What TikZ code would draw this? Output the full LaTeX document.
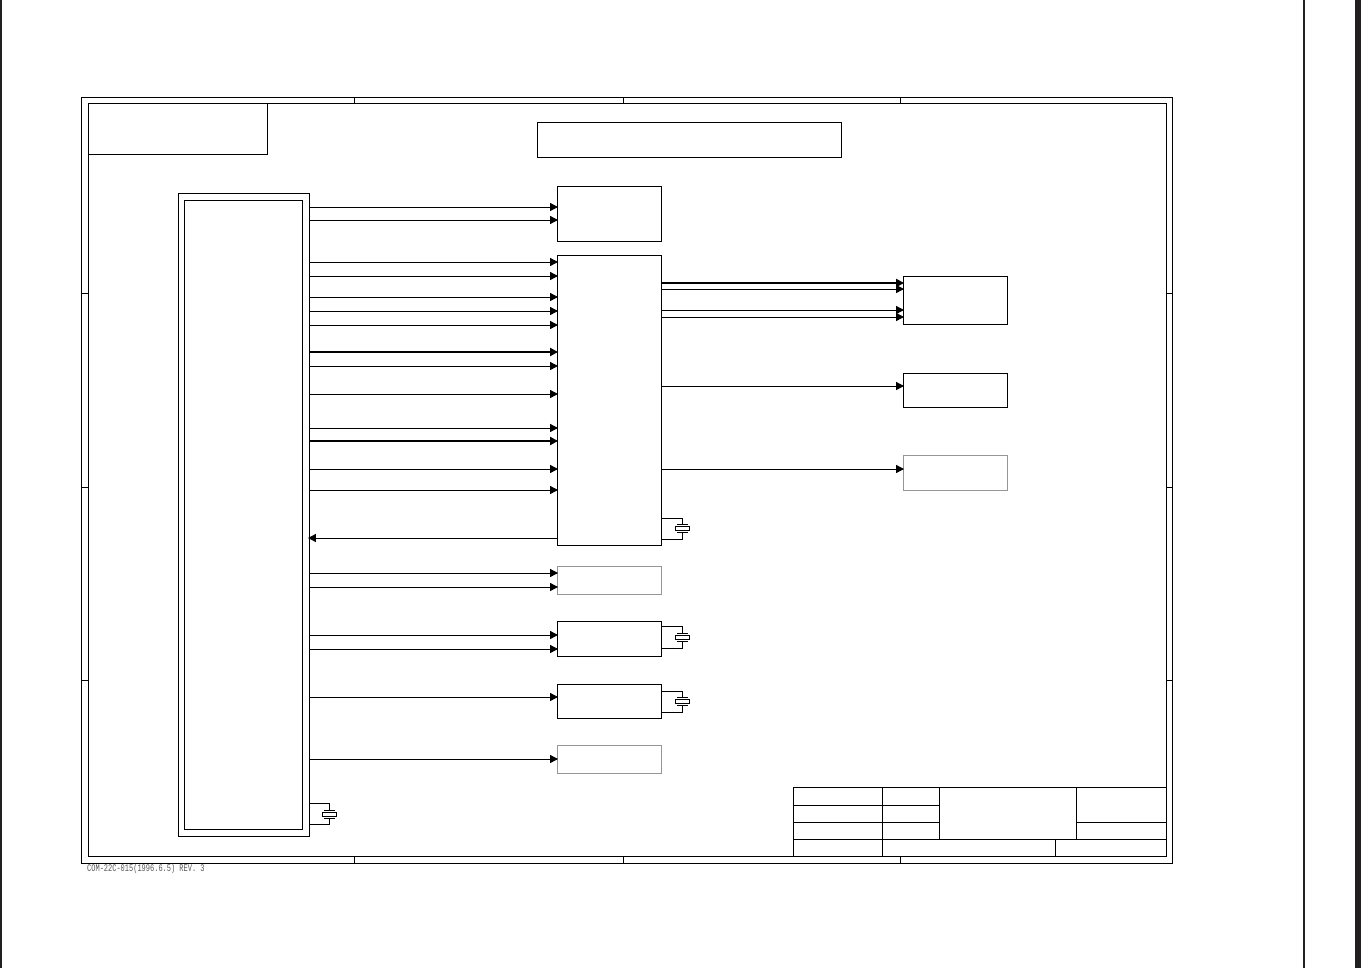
\documentclass[tikz,border=0pt]{standalone}
\usepackage{fontspec}
\setmonofont{Liberation Mono}
\usetikzlibrary{arrows.meta, fit}
\definecolor{FrameGrey}{RGB}{35, 31, 32}
\definecolor{FaintGrey}{RGB}{150, 150, 150}

\begin{document}
\begin{tikzpicture}[
  x=0.75pt, y=-0.75pt,
  blockbox/.style={rectangle, draw=black, line width=0.75pt, inner sep=0pt, outer sep=0pt},
  faintbox/.style={rectangle, draw=FaintGrey, line width=0.75pt, inner sep=0pt, outer sep=0pt},
  arr/.style={-{Triangle[length=6pt, width=6pt]}, line width=0.75pt, color=black, shorten >=-0.8pt},
  thickarr/.style={arr, line width=1.4pt},
  wire/.style={line width=0.75pt, color=black},
  xtal/.pic={
    \coordinate (-top) at (0,-4);
    \coordinate (-bot) at (0,5);
    \draw[line width=1.4pt] (-5.5,-3.5) -- (5.5,-3.5);
    \draw[line width=1.4pt] (-5.5,4.5) -- (5.5,4.5);
    \draw[line width=1.2pt, fill=white] (-7,-1.5) rectangle (7,2.5);
  }
]
  \useasboundingbox (0,0) rectangle (1361,968);

  % page edges
  \node[fill=FrameGrey, inner sep=0pt, fit={(0,0) (2,968)}] (edgeL) {};
  \node[fill=FrameGrey, inner sep=0pt, fit={(1303,0) (1305,968)}] (edgeR) {};
  \node[fill=FrameGrey, inner sep=0pt, fit={(1355,0) (1361,968)}] (edgeS) {};

  % drawing sheet
  \node[blockbox, fit={(81,97) (1172,863)}] (sheet) {};
  \node[blockbox, fit={(88,103) (1166,856)}] (inner) {};

  \draw[wire] (354,97) -- (354,103);
  \draw[wire] (623,97) -- (623,103);
  \draw[wire] (900,97) -- (900,103);
  \draw[wire] (354,856) -- (354,863);
  \draw[wire] (623,856) -- (623,863);
  \draw[wire] (900,856) -- (900,863);
  \draw[wire] (81,293) -- (88,293);
  \draw[wire] (81,487) -- (88,487);
  \draw[wire] (81,680) -- (88,680);
  \draw[wire] (1166,293) -- (1172,293);
  \draw[wire] (1166,487) -- (1172,487);
  \draw[wire] (1166,680) -- (1172,680);

  \node[blockbox, fit={(88,103) (267,154)}] (corner) {};
  \node[blockbox, fit={(537,122) (841,157)}] (title) {};

  % blocks
  \node[blockbox, fit={(178,193) (309,836)}] (cpu) {};
  \node[blockbox, fit={(184,200) (302,829)}] (cpuin) {};

  \node[blockbox, fit={(557,186) (661,241)}] (rom)  {};
  \node[blockbox, fit={(557,255) (661,545)}] (gate) {};
  \node[faintbox, fit={(557,566) (661,594)}] (lat)  {};
  \node[blockbox, fit={(557,621) (661,656)}] (ctca) {};
  \node[blockbox, fit={(557,684) (661,718)}] (ctcb) {};
  \node[faintbox, fit={(557,745) (661,773)}] (drv)  {};

  \node[blockbox, fit={(903,276) (1007,324)}] (outa) {};
  \node[blockbox, fit={(903,373) (1007,407)}] (outb) {};
  \node[faintbox, fit={(903,455) (1007,490)}] (outc) {};

  % cpu to blocks
  \draw[arr] (cpu.east |- 0,207) -- (rom.west |- 0,207);
  \draw[arr] (cpu.east |- 0,220) -- (rom.west |- 0,220);

  \draw[arr] (cpu.east |- 0,262) -- (gate.west |- 0,262);
  \draw[arr] (cpu.east |- 0,276) -- (gate.west |- 0,276);
  \draw[arr] (cpu.east |- 0,297) -- (gate.west |- 0,297);
  \draw[arr] (cpu.east |- 0,311) -- (gate.west |- 0,311);
  \draw[arr] (cpu.east |- 0,325) -- (gate.west |- 0,325);
  \draw[thickarr] (cpu.east |- 0,352) -- (gate.west |- 0,352);
  \draw[arr] (cpu.east |- 0,366) -- (gate.west |- 0,366);
  \draw[arr] (cpu.east |- 0,394) -- (gate.west |- 0,394);
  \draw[arr] (cpu.east |- 0,428) -- (gate.west |- 0,428);
  \draw[thickarr] (cpu.east |- 0,441) -- (gate.west |- 0,441);
  \draw[arr] (cpu.east |- 0,469) -- (gate.west |- 0,469);
  \draw[arr] (cpu.east |- 0,490) -- (gate.west |- 0,490);
  \draw[arr] (gate.west |- 0,538) -- (cpu.east |- 0,538);

  \draw[arr] (cpu.east |- 0,573) -- (lat.west |- 0,573);
  \draw[arr] (cpu.east |- 0,587) -- (lat.west |- 0,587);
  \draw[arr] (cpu.east |- 0,635) -- (ctca.west |- 0,635);
  \draw[arr] (cpu.east |- 0,649) -- (ctca.west |- 0,649);
  \draw[arr] (cpu.east |- 0,697) -- (ctcb.west |- 0,697);
  \draw[arr] (cpu.east |- 0,759) -- (drv.west |- 0,759);

  % gate to outputs
  \draw[thickarr] (gate.east |- 0,283) -- (outa.west |- 0,283);
  \draw[arr] (gate.east |- 0,289) -- (outa.west |- 0,289);
  \draw[arr] (gate.east |- 0,310) -- (outa.west |- 0,310);
  \draw[arr] (gate.east |- 0,317) -- (outa.west |- 0,317);
  \draw[arr] (gate.east |- 0,386) -- (outb.west |- 0,386);
  \draw[arr] (gate.east |- 0,469) -- (outc.west |- 0,469);

  % crystals
  \pic (xa) at (682.5,528) {xtal};
  \pic (xb) at (682.5,637) {xtal};
  \pic (xc) at (682.5,701) {xtal};
  \pic (xd) at (329.5,814) {xtal};

  \draw[wire] (gate.east |- 0,518) -| (xa-top);
  \draw[wire] (gate.east |- 0,539) -| (xa-bot);
  \draw[wire] (ctca.east |- 0,626) -| (xb-top);
  \draw[wire] (ctca.east |- 0,648) -| (xb-bot);
  \draw[wire] (ctcb.east |- 0,691) -| (xc-top);
  \draw[wire] (ctcb.east |- 0,712) -| (xc-bot);
  \draw[wire] (cpu.east |- 0,803) -| (xd-top);
  \draw[wire] (cpu.east |- 0,824) -| (xd-bot);

  % title block
  \node[blockbox, fit={(793,787) (882,805)}] (tba) {};
  \node[blockbox, fit={(793,805) (882,822)}] (tbb) {};
  \node[blockbox, fit={(793,822) (882,839)}] (tbc) {};
  \node[blockbox, fit={(793,839) (882,856)}] (tbd) {};
  \node[blockbox, fit={(882,787) (939,805)}] (tbe) {};
  \node[blockbox, fit={(882,805) (939,822)}] (tbf) {};
  \node[blockbox, fit={(882,822) (939,839)}] (tbg) {};
  \node[blockbox, fit={(882,839) (1055,856)}] (tbh) {};
  \node[blockbox, fit={(939,787) (1076,839)}] (tbi) {};
  \node[blockbox, fit={(1076,787) (1166,822)}] (tbj) {};
  \node[blockbox, fit={(1076,822) (1166,839)}] (tbk) {};
  \node[blockbox, fit={(1055,839) (1166,856)}] (tbl) {};

  \node[font=\ttfamily\fontsize{7.6pt}{8pt}\selectfont, color=black!65, anchor=west, inner sep=0pt, xscale=0.69, transform shape] (rev) at (87,869) {COM-22C-015(1996.6.5) REV. 3};
\end{tikzpicture}
\end{document}
